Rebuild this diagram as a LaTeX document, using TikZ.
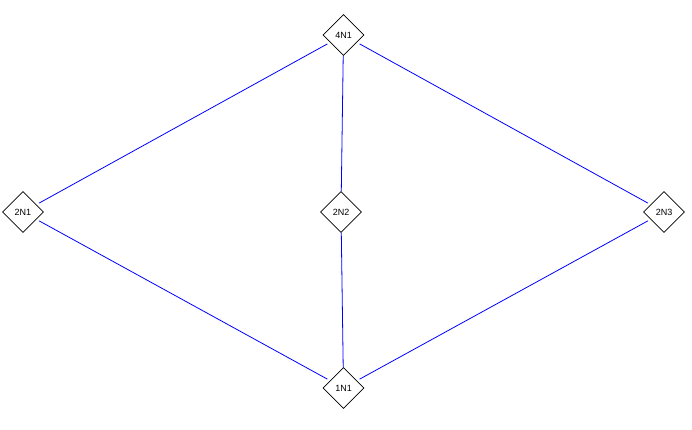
\documentclass[tikz,border=0pt]{standalone}
\usepackage{fontspec}
\setmainfont{Liberation Sans}
\usetikzlibrary{
  shapes
}
\tikzset{
  stn/.style={draw, diamond, fill=white, minimum width=41pt, minimum height=41pt,
    inner sep=0pt, line width=0.8pt, font=\fontsize{9}{10}\selectfont},
  link/.style={blue, line width=0.8pt, shorten <=3pt, shorten >=3pt}
}
\begin{document}
\begin{tikzpicture}[x=1pt, y=-1pt]
        \useasboundingbox (0,0) rectangle (692,430);
        \node[stn] (n41) at (343.5, 35) {4N1};
        \node[stn] (n21) at (23, 212) {2N1};
        \node[stn] (n22) at (341, 212) {2N2};
        \node[stn] (n23) at (664, 212) {2N3};
        \node[stn] (n11) at (343.5, 388) {1N1};
	\draw[link] (n41) -- (n21);
	\draw[link, shorten <=0pt, shorten >=0pt] (n41) -- (n22);
	\draw[link] (n41) -- (n23);
	\draw[link] (n21) -- (n11);
	\draw[link, shorten <=0pt, shorten >=0pt] (n22) -- (n11);
	\draw[link] (n23) -- (n11);
\end{tikzpicture}
\end{document}
